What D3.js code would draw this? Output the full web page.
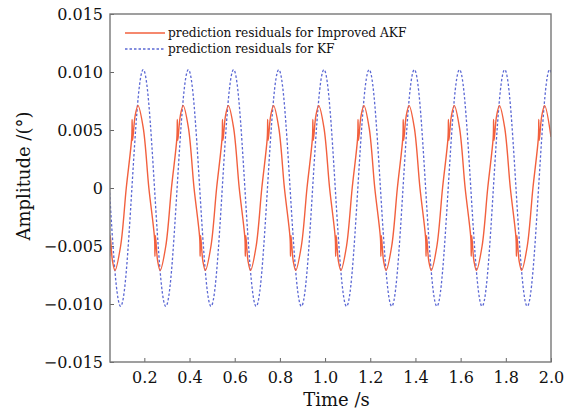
<!DOCTYPE html>
<html>
<head>
<meta charset="utf-8">
<script src="https://cdn.jsdelivr.net/npm/d3@7"></script>
<style>
  body { margin: 0; background: #fff; }
  text { font-family: "DejaVu Serif", "Liberation Serif", serif; fill: #111; }
</style>
</head>
<body>
<div id="chart"></div>
<script>
// values
const xTicks = [0.2, 0.4, 0.6, 0.8, 1.0, 1.2, 1.4, 1.6, 1.8, 2.0];
const yTicks = [-0.015, -0.010, -0.005, 0, 0.005, 0.010, 0.015];
const seriesNames = ["prediction residuals for Improved AKF", "prediction residuals for KF"];

// KF residuals (blue dotted)
const kfTime = [0.045, 0.07, 0.095, 0.12, 0.145, 0.17, 0.195, 0.22,
  0.245, 0.27, 0.295, 0.32, 0.345, 0.37, 0.395, 0.42,
  0.445, 0.47, 0.495, 0.52, 0.545, 0.57, 0.595, 0.62,
  0.645, 0.67, 0.695, 0.72, 0.745, 0.77, 0.795, 0.82,
  0.845, 0.87, 0.895, 0.92, 0.945, 0.97, 0.995, 1.02,
  1.045, 1.07, 1.095, 1.12, 1.145, 1.17, 1.195, 1.22,
  1.245, 1.27, 1.295, 1.32, 1.345, 1.37, 1.395, 1.42,
  1.445, 1.47, 1.495, 1.52, 1.545, 1.57, 1.595, 1.62,
  1.645, 1.67, 1.695, 1.72, 1.745, 1.77, 1.795, 1.82,
  1.845, 1.87, 1.895, 1.92, 1.945, 1.97, 1.995, 2.02];
const kfValue = [0, -0.0072, -0.0102, -0.0072, 0, 0.0072, 0.0102, 0.0072,
  0, -0.0072, -0.0102, -0.0072, 0, 0.0072, 0.0102, 0.0072,
  0, -0.0072, -0.0102, -0.0072, 0, 0.0072, 0.0102, 0.0072,
  0, -0.0072, -0.0102, -0.0072, 0, 0.0072, 0.0102, 0.0072,
  0, -0.0072, -0.0102, -0.0072, 0, 0.0072, 0.0102, 0.0072,
  0, -0.0072, -0.0102, -0.0072, 0, 0.0072, 0.0102, 0.0072,
  0, -0.0072, -0.0102, -0.0072, 0, 0.0072, 0.0102, 0.0072,
  0, -0.0072, -0.0102, -0.0072, 0, 0.0072, 0.0102, 0.0072,
  0, -0.0072, -0.0102, -0.0072, 0, 0.0072, 0.0102, 0.0072,
  0, -0.0072, -0.0102, -0.0072, 0, 0.0072, 0.0102, 0.0072];

// Improved AKF residuals (red solid), small kinks before each extremum
const akfTime = [0.045, 0.047, 0.049, 0.059,
  0.07, 0.095, 0.12, 0.144, 0.146, 0.148, 0.159, 0.172, 0.195, 0.22, 0.245, 0.247, 0.249, 0.259,
  0.27, 0.295, 0.32, 0.344, 0.346, 0.348, 0.359, 0.372, 0.395, 0.42, 0.445, 0.447, 0.449, 0.459,
  0.47, 0.495, 0.52, 0.544, 0.546, 0.548, 0.559, 0.572, 0.595, 0.62, 0.645, 0.647, 0.649, 0.659,
  0.67, 0.695, 0.72, 0.744, 0.746, 0.748, 0.759, 0.772, 0.795, 0.82, 0.845, 0.847, 0.849, 0.859,
  0.87, 0.895, 0.92, 0.944, 0.946, 0.948, 0.959, 0.972, 0.995, 1.02, 1.045, 1.047, 1.049, 1.059,
  1.07, 1.095, 1.12, 1.144, 1.146, 1.148, 1.159, 1.172, 1.195, 1.22, 1.245, 1.247, 1.249, 1.259,
  1.27, 1.295, 1.32, 1.344, 1.346, 1.348, 1.359, 1.372, 1.395, 1.42, 1.445, 1.447, 1.449, 1.459,
  1.47, 1.495, 1.52, 1.544, 1.546, 1.548, 1.559, 1.572, 1.595, 1.62, 1.645, 1.647, 1.649, 1.659,
  1.67, 1.695, 1.72, 1.744, 1.746, 1.748, 1.759, 1.772, 1.795, 1.82, 1.845, 1.847, 1.849, 1.859,
  1.87, 1.895, 1.92, 1.944, 1.946, 1.948, 1.959, 1.972, 2.0];
const akfValue = [-0.0043, -0.0059, -0.0041, -0.0063,
  -0.0071, -0.0050, 0, 0.0043, 0.0059, 0.0041, 0.0062, 0.0071, 0.0052, 0, -0.0043, -0.0059, -0.0041, -0.0063,
  -0.0071, -0.0050, 0, 0.0043, 0.0059, 0.0041, 0.0062, 0.0071, 0.0052, 0, -0.0043, -0.0059, -0.0041, -0.0063,
  -0.0071, -0.0050, 0, 0.0043, 0.0059, 0.0041, 0.0062, 0.0071, 0.0052, 0, -0.0043, -0.0059, -0.0041, -0.0063,
  -0.0071, -0.0050, 0, 0.0043, 0.0059, 0.0041, 0.0062, 0.0071, 0.0052, 0, -0.0043, -0.0059, -0.0041, -0.0063,
  -0.0071, -0.0050, 0, 0.0043, 0.0059, 0.0041, 0.0062, 0.0071, 0.0052, 0, -0.0043, -0.0059, -0.0041, -0.0063,
  -0.0071, -0.0050, 0, 0.0043, 0.0059, 0.0041, 0.0062, 0.0071, 0.0052, 0, -0.0043, -0.0059, -0.0041, -0.0063,
  -0.0071, -0.0050, 0, 0.0043, 0.0059, 0.0041, 0.0062, 0.0071, 0.0052, 0, -0.0043, -0.0059, -0.0041, -0.0063,
  -0.0071, -0.0050, 0, 0.0043, 0.0059, 0.0041, 0.0062, 0.0071, 0.0052, 0, -0.0043, -0.0059, -0.0041, -0.0063,
  -0.0071, -0.0050, 0, 0.0043, 0.0059, 0.0041, 0.0062, 0.0071, 0.0052, 0, -0.0043, -0.0059, -0.0041, -0.0063,
  -0.0071, -0.0050, 0, 0.0043, 0.0059, 0.0041, 0.0062, 0.0071, 0.0044];

const margin = {top: 14, right: 28, bottom: 50, left: 110},
    width = 579 - margin.left - margin.right,
    height = 412 - margin.top - margin.bottom;

const svg = d3.select("#chart")
    .append("svg")
    .attr("width", 579)
    .attr("height", 412)
    .append("g")
    .attr("transform", `translate(${margin.left},${margin.top})`);

const x = d3.scaleLinear().domain([0.048, 2.0]).range([0, width]);
const y = d3.scaleLinear().domain([-0.015, 0.015]).range([height, 0]);

svg.append("clipPath").attr("id", "clip")
    .append("rect").attr("width", width).attr("height", height);

// axes, ticks pointing in
const fmtY = d => d === 0 ? "0" : d3.format(".3f")(d);
const xAxis = svg.append("g")
    .attr("transform", `translate(0,${height})`)
    .call(d3.axisBottom(x).tickValues(xTicks).tickSize(-4).tickPadding(10).tickFormat(d3.format(".1f")));
const yAxis = svg.append("g")
    .call(d3.axisLeft(y).tickValues(yTicks).tickSize(-4).tickPadding(7).tickFormat(fmtY));
[xAxis, yAxis].forEach(g => {
    g.select(".domain").remove();
    g.selectAll("line").attr("stroke", "#666");
    g.selectAll("text").style("font-size", "16px").attr("fill", "#111");
});

// lines
const kfData = kfTime.map((t, i) => [t, kfValue[i]]);
const akfData = akfTime.map((t, i) => [t, akfValue[i]]);

const plot = svg.append("g").attr("clip-path", "url(#clip)");
plot.append("path")
    .datum(kfData)
    .attr("fill", "none")
    .attr("stroke", "#5b68d4")
    .attr("stroke-width", 1.3)
    .attr("stroke-dasharray", "2.5,2")
    .attr("d", d3.line().x(d => x(d[0])).y(d => y(d[1])).curve(d3.curveNatural));
plot.append("path")
    .datum(akfData)
    .attr("fill", "none")
    .attr("stroke", "#f2603e")
    .attr("stroke-width", 1.4)
    .attr("d", d3.line().x(d => x(d[0])).y(d => y(d[1])).curve(d3.curveCatmullRom.alpha(0.5)));

// frame
svg.append("rect")
    .attr("width", width)
    .attr("height", height)
    .attr("fill", "none")
    .attr("stroke", "#777")
    .attr("stroke-width", 1.4);

// legend
const legend = svg.append("g").attr("transform", "translate(15,19)");
legend.append("line").attr("x1", 0).attr("x2", 40).attr("y1", 0).attr("y2", 0)
    .attr("stroke", "#f2603e").attr("stroke-width", 1.4);
legend.append("line").attr("x1", 0).attr("x2", 40).attr("y1", 16).attr("y2", 16)
    .attr("stroke", "#5b68d4").attr("stroke-width", 1.3).attr("stroke-dasharray", "2.5,2");
legend.selectAll(".lab")
    .data(seriesNames)
    .join("text")
    .attr("x", 43)
    .attr("y", (d, i) => 4 + i * 16)
    .style("font-size", "12.2px")
    .text(d => d);

// axis titles
svg.append("text")
    .attr("x", width / 2 + 6)
    .attr("y", height + 44)
    .attr("text-anchor", "middle")
    .style("font-size", "18px")
    .text("Time /s");
svg.append("text")
    .attr("transform", `translate(-80,${height / 2 - 12}) rotate(-90)`)
    .attr("text-anchor", "middle")
    .style("font-size", "18px")
    .text("Amplitude /(°)");
</script>
</body>
</html>
